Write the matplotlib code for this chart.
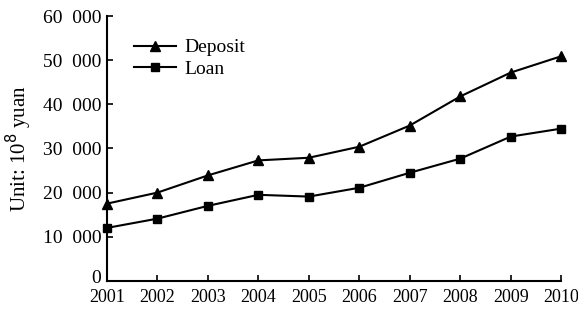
import matplotlib
matplotlib.use("Agg")
import matplotlib.pyplot as plt
import matplotlib.transforms as mtransforms
from matplotlib.ticker import FuncFormatter

years = [2001, 2002, 2003, 2004, 2005, 2006, 2007, 2008, 2009, 2010]
deposit = [17500, 20000, 23900, 27300, 27900, 30400, 35200, 41800, 47200, 50900]
loan = [12000, 14100, 17000, 19500, 19100, 21100, 24500, 27700, 32700, 34500]
yticks = [0, 10000, 20000, 30000, 40000, 50000, 60000]

plt.rcParams['font.family'] = ['Liberation Serif', 'DejaVu Serif']

fig = plt.figure(figsize=(5.78, 3.09), dpi=100)
ax = fig.add_axes([0.185, 0.091, 0.786, 0.857])

ax.plot(years, deposit, color='black', lw=1.5, marker='^', ms=7, label='Deposit')
ax.plot(years, loan, color='black', lw=1.5, marker='s', ms=6, label='Loan')

ax.set_xlim(2001, 2010)
ax.set_ylim(0, 60000)
ax.set_xticks(years)
ax.set_yticks(yticks)

def fmt(v, pos):
    v = int(round(v))
    if v == 0:
        return '0'
    return f"{v // 1000}  {v % 1000:03d}"

ax.yaxis.set_major_formatter(FuncFormatter(fmt))
for s in ['top', 'right']:
    ax.spines[s].set_visible(False)
for s in ['left', 'bottom']:
    ax.spines[s].set_linewidth(1.5)
ax.tick_params(direction='in', length=4, width=1.2)
ax.tick_params(axis='x', pad=6, labelsize=13)
ax.tick_params(axis='y', pad=4, labelsize=14)
ax.set_ylabel('Unit: 10$^8$ yuan', fontsize=15, labelpad=6)
ax.spines['bottom'].set_clip_on(False)
for l in ax.lines:
    l.set_clip_on(False)

fig.canvas.draw()
ylabs = ax.get_yticklabels()
off = mtransforms.ScaledTranslation(0, 3 / 72, fig.dpi_scale_trans)
ylabs[0].set_transform(ylabs[0].get_transform() + off)

ax.legend(loc='upper left', bbox_to_anchor=(0.02, 0.98), frameon=False, fontsize=14,
          handlelength=2.2, handletextpad=0.4, labelspacing=0.2)

fig.savefig('out.png', dpi=100)
